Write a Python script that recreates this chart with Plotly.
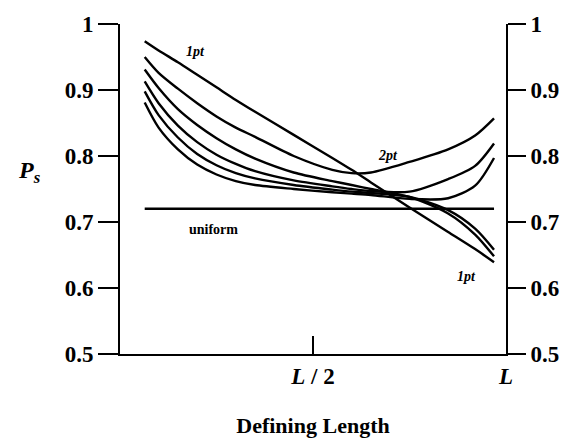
import plotly.graph_objects as go

# x as fraction of L
xs = [0.064, 0.10, 0.15, 0.20, 0.25, 0.30, 0.35, 0.45, 0.55, 0.60, 0.65, 0.75, 0.85, 0.92, 0.969]
p1 = [0.974, 0.960, 0.942, 0.923, 0.904, 0.885, 0.867, 0.832, 0.797, 0.779, 0.760, 0.722, 0.685, 0.659, 0.639]
p2 = [0.950, 0.926, 0.902, 0.880, 0.860, 0.843, 0.829, 0.800, 0.779, 0.774, 0.775, 0.791, 0.810, 0.831, 0.857]
p3 = [0.931, 0.903, 0.871, 0.847, 0.827, 0.810, 0.796, 0.775, 0.762, 0.756, 0.750, 0.738, 0.713, 0.681, 0.648]
p4 = [0.913, 0.880, 0.846, 0.821, 0.802, 0.788, 0.777, 0.763, 0.754, 0.750, 0.747, 0.746, 0.765, 0.785, 0.819]
p5 = [0.898, 0.862, 0.828, 0.803, 0.786, 0.774, 0.766, 0.756, 0.749, 0.746, 0.744, 0.738, 0.718, 0.690, 0.658]
p6 = [0.881, 0.843, 0.810, 0.787, 0.772, 0.762, 0.756, 0.750, 0.745, 0.743, 0.741, 0.735, 0.736, 0.755, 0.797]
uniform_x = [0.064, 0.969]
uniform_y = [0.72, 0.72]

y_ticks = [0.5, 0.6, 0.7, 0.8, 0.9, 1.0]
y_labels = ["<b>0.5</b>", "<b>0.6</b>", "<b>0.7</b>", "<b>0.8</b>", "<b>0.9</b>", "<b>1</b>"]
x_ticks = [0.5, 1.0]
x_labels = ["<b><i>L</i> / 2</b>", "<b><i>L</i></b>"]

FONT = "Liberation Serif"
fig = go.Figure()
for ys in [p1, p2, p3, p4, p5, p6]:
    fig.add_trace(go.Scatter(x=xs, y=ys, mode="lines",
                             line=dict(color="black", width=2.4, shape="spline", smoothing=0.8),
                             showlegend=False, hoverinfo="skip"))
fig.add_trace(go.Scatter(x=uniform_x, y=uniform_y, mode="lines", line=dict(color="black", width=2.4),
                         showlegend=False, hoverinfo="skip", yaxis="y2"))

ann = [
    dict(x=0.196, y=0.959, text="<b><i>1pt</i></b>"),
    dict(x=0.694, y=0.801, text="<b><i>2pt</i></b>"),
    dict(x=0.898, y=0.617, text="<b><i>1pt</i></b>"),
    dict(x=0.242, y=0.688, text="<b>uniform</b>"),
]
for a in ann:
    fig.add_annotation(x=a["x"], y=a["y"], text=a["text"], showarrow=False, xref="x", yref="y",
                       font=dict(family=FONT, size=14, color="black"))
fig.add_annotation(x=-0.27, y=0.551, xref="paper", yref="paper",
                   text="<b><i>P</i></b><sub><b><i>s</i></b></sub>", showarrow=False,
                   font=dict(family=FONT, size=24, color="black"))

axis_common = dict(showgrid=False, zeroline=False, showline=True, linecolor="black", linewidth=2,
                   tickcolor="black", tickwidth=2,
                   tickfont=dict(family=FONT, size=23, color="black"))
fig.update_layout(
    width=571, height=446, margin=dict(l=120, r=59, t=23, b=91),
    paper_bgcolor="white", plot_bgcolor="white",
    font=dict(family=FONT, color="black"),
    xaxis=dict(range=[0, 1], tickvals=x_ticks, ticktext=x_labels, ticks="inside", ticklen=18,
               title=dict(text="<b>Defining Length</b>", standoff=30,
                          font=dict(family=FONT, size=22, color="black")),
               **axis_common),
    yaxis=dict(range=[0.5, 1], tickvals=y_ticks, ticktext=y_labels, ticks="outside", ticklen=20,
               **axis_common),
    yaxis2=dict(range=[0.5, 1], tickvals=y_ticks, ticktext=y_labels, ticks="outside", ticklen=18,
                overlaying="y", side="right", anchor="x", **axis_common),
)
fig.write_html("out.html")
